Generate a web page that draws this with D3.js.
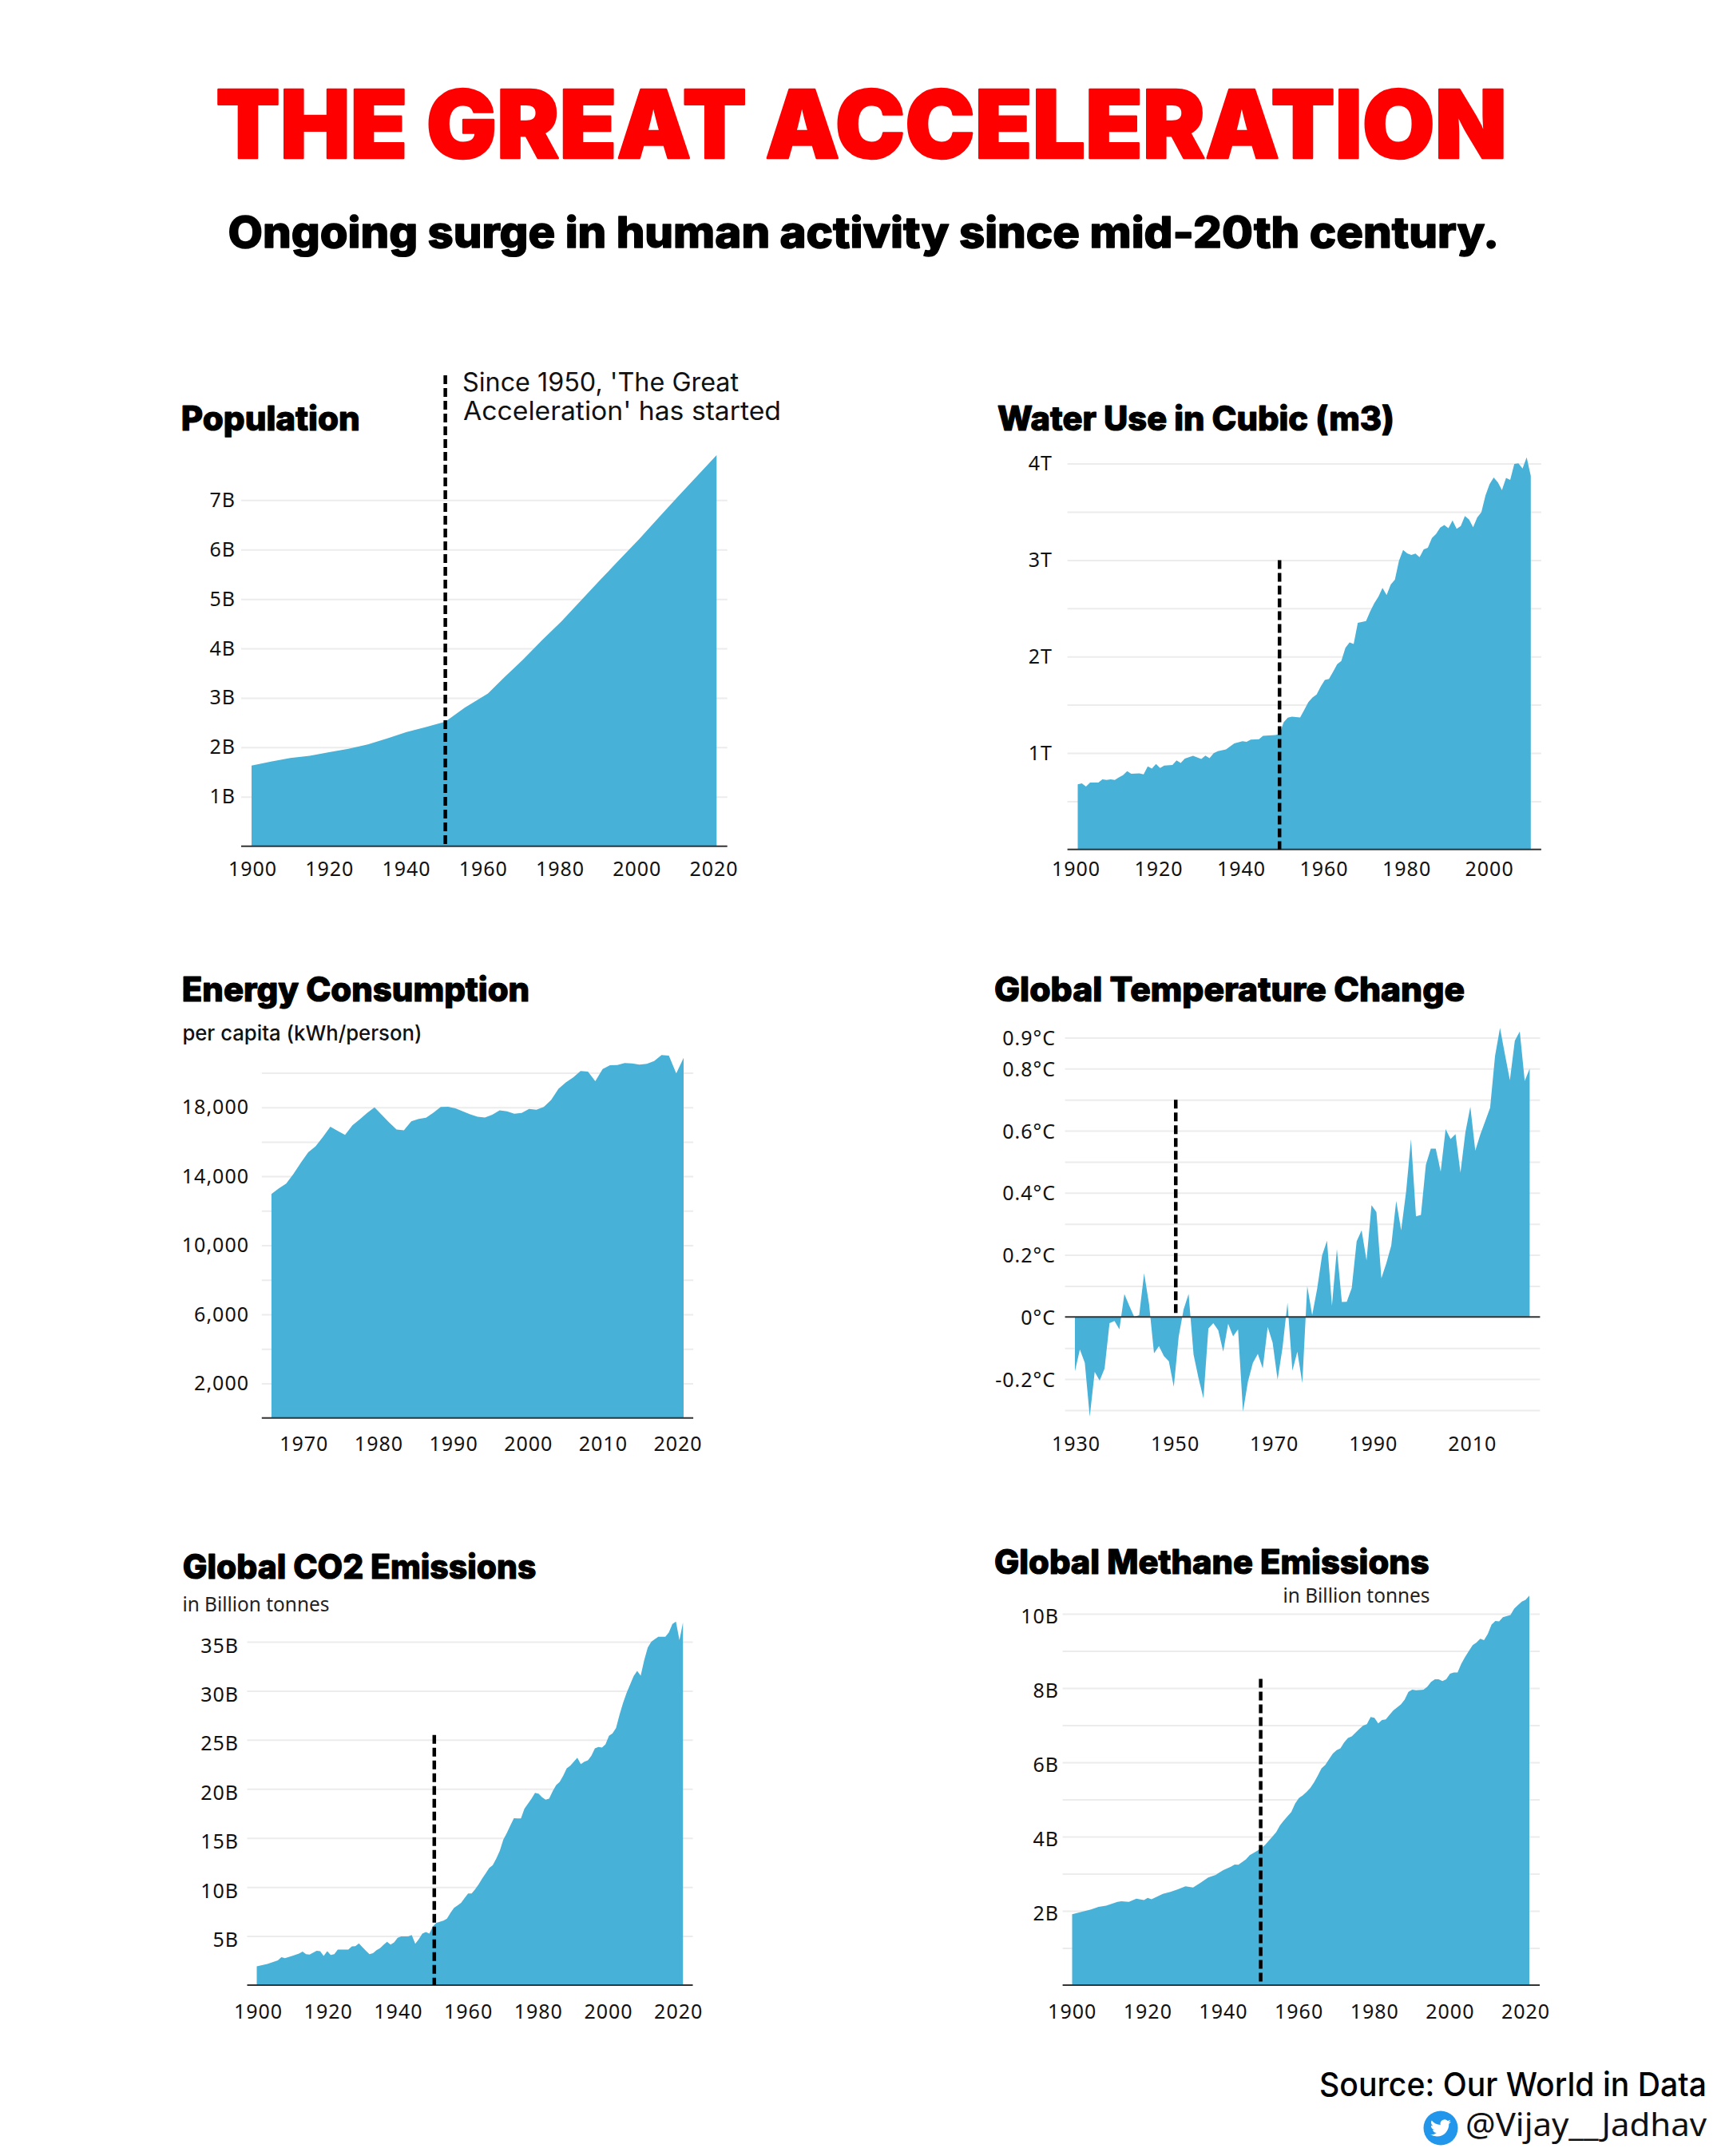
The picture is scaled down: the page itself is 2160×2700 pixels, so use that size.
<!DOCTYPE html>
<html>
  <head>
    <meta charset="utf-8">
    <title>The Great Acceleration</title>
    <script src="https://d3js.org/d3.v7.min.js"></script>
    <style>
      body { margin: 0; background: #fff; }
      svg { display: block; }
      .grid line { stroke: #ececec; stroke-width: 2; }
      .grid path, .ticks path { display: none; }
      .ticks line { display: none; }
      .ticks text { font-family: "Noto Sans", sans-serif; font-size: 25px; letter-spacing: 1px; fill: #111; }
    </style>
  </head>
  <body>
    <script>
      // values
      var populationYears = [1900,1905,1910,1915,1920,1925,1930,1935,1940,1945,1950,1955,1961,1965,1970,1975,1980,1985,1990,1995,2000,2005,2010,2015,2020];
      var populationValues = [1.63,1.71,1.785,1.83,1.9,1.97,2.06,2.18,2.31,2.41,2.52,2.8,3.09,3.4,3.77,4.17,4.55,4.97,5.39,5.8,6.21,6.64,7.07,7.49,7.91];

      var waterYears = [1900,1901,1902,1903,1905,1906,1907,1908,1909,1910,1911,1912,1913,1915,1916,1917,1918,1919,1920,1921,1923,1924,1925,1926,1928,1930,1931,1932,1933,1934,1936,1938,1940,1941,1942,1944,1945,1948,1949,1950,1951,1952,1954,1955,1956,1957,1958,1959,1960,1961,1962,1963,1964,1965,1966,1967,1968,1970,1971,1972,1973,1974,1975,1976,1977,1978,1979,1980,1981,1982,1983,1984,1985,1986,1987,1988,1989,1990,1991,1992,1993,1994,1995,1996,1997,1998,1999,2000,2001,2002,2003,2004,2005,2006,2007,2008,2009,2010];
      var waterValues = [0.676,0.686,0.653,0.693,0.693,0.727,0.72,0.727,0.72,0.747,0.771,0.811,0.784,0.788,0.778,0.862,0.839,0.886,0.845,0.869,0.876,0.923,0.896,0.943,0.97,0.937,0.974,0.947,0.997,1.018,1.038,1.099,1.123,1.116,1.139,1.143,1.177,1.187,1.197,1.319,1.366,1.376,1.369,1.447,1.528,1.576,1.606,1.69,1.758,1.768,1.843,1.921,1.954,2.09,2.147,2.13,2.35,2.367,2.468,2.553,2.62,2.712,2.637,2.746,2.796,2.992,3.104,3.07,3.053,3.067,3.03,3.111,3.128,3.229,3.27,3.337,3.364,3.33,3.412,3.324,3.354,3.456,3.422,3.341,3.442,3.496,3.669,3.787,3.855,3.807,3.726,3.851,3.831,3.997,4.003,3.949,4.064,3.872];

      var energyYears = d3.range(1965, 2022);
      var energyValues = [12977,13300,13580,14140,14790,15390,15740,16280,16870,16630,16400,16960,17300,17670,18000,17550,17120,16710,16670,17180,17320,17390,17680,18020,18030,17940,17760,17590,17450,17410,17570,17820,17760,17630,17670,17900,17860,18020,18420,19070,19440,19730,20100,20060,19510,20210,20430,20450,20560,20540,20470,20510,20680,21030,20990,19960,20860];

      var tempYears = d3.range(1930, 2023);
      var tempValues = [-0.175,-0.105,-0.148,-0.321,-0.177,-0.205,-0.166,-0.02,-0.013,-0.04,0.074,0.036,0,0.006,0.141,0.041,-0.117,-0.094,-0.126,-0.143,-0.225,-0.062,0.025,0.074,-0.121,-0.197,-0.262,-0.037,-0.02,-0.043,-0.112,-0.022,-0.062,-0.04,-0.305,-0.208,-0.148,-0.119,-0.166,-0.032,-0.083,-0.202,-0.099,0.046,-0.173,-0.112,-0.213,0.1,0.006,0.09,0.198,0.246,0.036,0.219,0.048,0.049,0.093,0.244,0.279,0.182,0.36,0.338,0.125,0.173,0.23,0.374,0.279,0.403,0.573,0.324,0.329,0.49,0.542,0.542,0.468,0.605,0.573,0.589,0.465,0.595,0.677,0.536,0.587,0.63,0.674,0.841,0.931,0.846,0.763,0.89,0.92,0.76,0.8];

      var co2Years = [1900,1903,1905,1906,1907,1908,1910,1912,1913,1914,1915,1917,1918,1919,1920,1921,1922,1923,1926,1927,1928,1929,1930,1931,1932,1933,1934,1935,1936,1937,1938,1939,1940,1941,1943,1944,1945,1946,1947,1948,1949,1950,1951,1953,1954,1955,1956,1957,1958,1959,1960,1961,1962,1963,1964,1965,1966,1967,1968,1969,1970,1971,1972,1973,1974,1975,1976,1977,1978,1979,1980,1981,1982,1983,1984,1985,1986,1987,1988,1989,1990,1991,1992,1993,1994,1995,1996,1997,1998,1999,2000,2001,2002,2003,2004,2005,2006,2007,2008,2009,2010,2011,2012,2013,2014,2016,2017,2018,2019,2020,2021];
      var co2Values = [1.92,2.16,2.4,2.53,2.84,2.74,2.98,3.22,3.42,3.15,3.12,3.49,3.46,2.98,3.46,3.08,3.15,3.63,3.63,3.94,3.97,4.25,3.87,3.49,3.15,3.25,3.56,3.77,4.11,4.42,4.14,4.35,4.83,4.97,4.97,5.1,4.21,4.69,5.24,5.41,5.24,5.99,6.34,6.58,6.78,7.36,7.88,8.12,8.39,8.87,9.35,9.35,9.76,10.27,10.86,11.4,11.95,12.23,12.91,13.7,14.83,15.51,16.27,17.02,16.99,16.99,17.98,18.49,19.01,19.59,19.52,19.14,18.9,19.01,19.76,20.38,20.72,21.34,22.09,22.36,22.77,23.18,22.53,22.77,22.91,23.39,24.14,24.28,24.21,24.55,25.41,25.65,26.2,27.57,28.77,29.79,30.65,31.51,32.02,31.54,33.12,34.42,35,35.27,35.51,35.51,35.96,36.82,37.05,35.17,36.95];

      var methaneYears = [1900,1905,1907,1909,1912,1913,1915,1917,1919,1920,1921,1924,1926,1928,1930,1932,1934,1936,1938,1940,1942,1943,1944,1946,1947,1949,1951,1953,1954,1955,1956,1957,1958,1959,1960,1961,1962,1963,1964,1965,1966,1967,1968,1969,1970,1971,1972,1973,1974,1976,1977,1978,1979,1980,1981,1982,1983,1984,1985,1986,1987,1988,1989,1990,1991,1993,1994,1995,1996,1997,1998,1999,2000,2001,2002,2003,2004,2005,2006,2007,2008,2009,2010,2011,2012,2013,2014,2016,2017,2018,2019,2020,2021];
      var methaneValues = [1.91,2.04,2.11,2.14,2.24,2.26,2.24,2.33,2.29,2.35,2.31,2.46,2.51,2.58,2.66,2.63,2.76,2.9,2.97,3.1,3.19,3.25,3.24,3.39,3.5,3.62,3.77,4,4.12,4.3,4.43,4.55,4.66,4.89,5.04,5.11,5.2,5.31,5.46,5.64,5.84,5.93,6.09,6.24,6.33,6.38,6.54,6.66,6.7,6.9,6.99,7.03,7.22,7.2,7.05,7.14,7.16,7.28,7.4,7.48,7.56,7.69,7.9,7.96,7.94,7.96,8.04,8.17,8.24,8.24,8.19,8.24,8.39,8.42,8.42,8.66,8.84,9,9.16,9.23,9.33,9.29,9.46,9.71,9.81,9.8,9.91,9.97,10.14,10.24,10.33,10.38,10.49];

      var populationLabels = [1,2,3,4,5,6,7];
      var waterLabels = [1,2,3,4];
      var energyLabels = [2000,6000,10000,14000,18000];
      var tempLabels = [-0.2,0,0.2,0.4,0.6,0.8,0.9];
      var co2Labels = [5,10,15,20,25,30,35];
      var methaneLabels = [2,4,6,8,10];

      var width = 2160, height = 2700;
      var areaColor = "#48b1d7";

      var panels = [
        { title: "Population", tx: 226.8, ty: 538.6, tw: 224,
          years: populationYears, values: populationValues,
          xDomain: [1900, 2020], xRange: [315, 897.3],
          yDomain: [0, 7], yRange: [1059.7, 626.3],
          gridX: [302, 910.7], grid: [1,2,3,4,5,6,7],
          labels: populationLabels, fmt: function(d) { return d + "B"; }, labelRight: 295, labelDy: 0,
          xTicks: [1900,1920,1940,1960,1980,2000,2020], xLabelRange: [316, 893.5], xAxisY: 1059.7, xBaseline: 1096.7,
          dash: { year: 1950, top: 9.526 } },
        { title: "Water Use in Cubic (m3)", tx: 1249, ty: 538.8, tw: 497,
          years: waterYears, values: waterValues,
          xDomain: [1900, 2010], xRange: [1349.5, 1916.8],
          yDomain: [0, 4], yRange: [1063.8, 580.6],
          gridX: [1336.6, 1929.9], grid: [0.5,1,1.5,2,2.5,3,3.5,4],
          labels: waterLabels, fmt: function(d) { return d + "T"; }, labelRight: 1318, labelDy: 0,
          xTicks: [1900,1920,1940,1960,1980,2000], xLabelRange: [1347, 1864.6], xAxisY: 1063.8, xBaseline: 1096.7,
          dash: { year: 1949, top: 3 } },
        { title: "Energy Consumption", tx: 227.8, ty: 1253.8, tw: 435.4,
          years: energyYears, values: energyValues,
          xDomain: [1965, 2021], xRange: [339.9, 856],
          yDomain: [0, 20000], yRange: [1775.8, 1343.4],
          gridX: [327.8, 868.1], grid: d3.range(2000, 20001, 2000),
          labels: energyLabels, fmt: d3.format(","), labelRight: 312, labelDy: 0,
          xTicks: [1970,1980,1990,2000,2010,2020], xLabelRange: [380.3, 848.5], xAxisY: 1775.8, xBaseline: 1816.7 },
        { title: "Global Temperature Change", tx: 1245, ty: 1253.8, tw: 589,
          years: tempYears, values: tempValues,
          xDomain: [1930, 2022], xRange: [1346, 1915.4],
          yDomain: [-0.3, 0.9], yRange: [1765.9, 1299.4],
          gridX: [1333.6, 1928.4], grid: [-0.3,-0.2,-0.1,0.1,0.2,0.3,0.4,0.5,0.6,0.7,0.8,0.9],
          labels: tempLabels, fmt: function(d) { return d + "°C"; }, labelRight: 1322, labelDy: 1,
          xTicks: [1930,1950,1970,1990,2010], xLabelRange: [1347, 1843.3], xAxisY: 1765.9, xBaseline: 1816.7,
          dash: { year: 1950.4, top: 0.7 } },
        { title: "Global CO2 Emissions", tx: 228.8, ty: 1976.8, tw: 442.5,
          years: co2Years, values: co2Values,
          xDomain: [1900, 2021], xRange: [321.5, 855.2],
          yDomain: [0, 35], yRange: [2486, 2056],
          gridX: [309.5, 867.5], grid: [5,10,15,20,25,30,35],
          labels: co2Labels, fmt: function(d) { return d + "B"; }, labelRight: 299, labelDy: 5,
          xTicks: [1900,1920,1940,1960,1980,2000,2020], xLabelRange: [323, 849.2], xAxisY: 2486, xBaseline: 2528,
          dash: { year: 1950.4, top: 25.5 } },
        { title: "Global Methane Emissions", tx: 1245, ty: 1971.3, tw: 544.5,
          years: methaneYears, values: methaneValues,
          xDomain: [1900, 2021], xRange: [1342.5, 1915],
          yDomain: [0, 10], yRange: [2486, 2021.1],
          gridX: [1330.6, 1928], grid: d3.range(1, 11),
          labels: methaneLabels, fmt: function(d) { return d + "B"; }, labelRight: 1326, labelDy: 3,
          xTicks: [1900,1920,1940,1960,1980,2000,2020], xLabelRange: [1342.2, 1910], xAxisY: 2486, xBaseline: 2528,
          dash: { year: 1949.9, top: 8.25 } }
      ];

      var svg = d3.select("body").append("svg")
        .attr("width", width)
        .attr("height", height)
        .attr("viewBox", "0 0 " + width + " " + height);

      svg.append("rect").attr("width", width).attr("height", height).attr("fill", "#fff");

      function fitText(x, y, str, w, size, weight, family, fill, heavy) {
        var t = svg.append("text")
          .attr("x", x).attr("y", y)
          .attr("textLength", w).attr("lengthAdjust", "spacingAndGlyphs")
          .attr("font-family", family)
          .attr("font-size", size).attr("font-weight", weight)
          .attr("fill", fill)
          .text(str);
        // Poppins Black is not installed, a thin outline makes up the weight
        if (heavy) t.attr("stroke", fill).attr("stroke-width", heavy).attr("stroke-linejoin", "round");
        return t;
      }

      fitText(270.3, 197.6, "THE GREAT ACCELERATION", 1616.5, 118, 900, "Inter, sans-serif", "#ff0000", 2.5);
      fitText(285.5, 310.2, "Ongoing surge in human activity since mid-20th century.", 1591.5, 54, 800, "Inter, sans-serif", "#000", 1.4);

      panels.forEach(function(p) {
        var x = d3.scaleLinear().domain(p.xDomain).range(p.xRange);
        var y = d3.scaleLinear().domain(p.yDomain).range(p.yRange);
        var xLabel = d3.scaleLinear()
          .domain([p.xTicks[0], p.xTicks[p.xTicks.length - 1]])
          .range(p.xLabelRange);
        var g = svg.append("g");

        // light grid
        g.append("g").attr("class", "grid")
          .attr("transform", "translate(" + p.gridX[0] + ",0)")
          .call(d3.axisLeft(y).tickValues(p.grid).tickSize(-(p.gridX[1] - p.gridX[0])).tickFormat(""));

        var rows = p.years.map(function(yr, i) { return { year: yr, value: p.values[i] }; });
        var area = d3.area()
          .x(function(d) { return x(d.year); })
          .y0(y(0))
          .y1(function(d) { return y(d.value); });

        g.append("path").datum(rows)
          .attr("fill", areaColor)
          .attr("d", area);

        // zero line
        g.append("line")
          .attr("x1", p.gridX[0]).attr("x2", p.gridX[1])
          .attr("y1", y(0)).attr("y2", y(0))
          .attr("stroke", "#333").attr("stroke-width", 2);

        if (p.dash) {
          g.append("line")
            .attr("x1", x(p.dash.year)).attr("x2", x(p.dash.year))
            .attr("y1", y(p.dash.top)).attr("y2", y(0))
            .attr("stroke", "#000").attr("stroke-width", 4.5)
            .attr("stroke-dasharray", "11 5");
        }

        g.append("g").attr("class", "ticks")
          .attr("transform", "translate(" + p.labelRight + "," + p.labelDy + ")")
          .call(d3.axisLeft(y).tickValues(p.labels).tickSize(0).tickPadding(0).tickFormat(p.fmt))
          .selectAll("text").attr("x", 0);

        g.append("g").attr("class", "ticks")
          .attr("transform", "translate(0," + p.xAxisY + ")")
          .call(d3.axisBottom(xLabel).tickValues(p.xTicks).tickSize(0).tickFormat(d3.format("d")))
          .selectAll("text")
          .attr("y", p.xBaseline - p.xAxisY).attr("dy", 0);

        fitText(p.tx, p.ty, p.title, p.tw, 42, 800, "Inter, sans-serif", "#000", 1.2);
      });

      // small notes
      fitText(579, 489.8, "Since 1950, 'The Great", 346, 32, 400, "Inter, sans-serif", "#111");
      fitText(580, 525.7, "Acceleration' has started", 398, 32, 400, "Inter, sans-serif", "#111");
      fitText(228.4, 1302.6, "per capita (kWh/person)", 300, 26, 500, "Inter, sans-serif", "#111");
      fitText(228.4, 2017.7, "in Billion tonnes", 184, 26, 400, "Noto Sans, sans-serif", "#222");
      fitText(1606.5, 2006.7, "in Billion tonnes", 184, 26, 400, "Noto Sans, sans-serif", "#222");

      // source block
      fitText(1652, 2625, "Source: Our World in Data", 485, 41, 500, "Inter, sans-serif", "#000");
      fitText(1835, 2675, "@Vijay__Jadhav", 302, 40, 400, "Noto Sans, sans-serif", "#111");
      svg.append("circle").attr("cx", 1804).attr("cy", 2665).attr("r", 21.5).attr("fill", "#2196ea");
      svg.append("path")
        .attr("transform", "translate(1791,2652) scale(1.08)")
        .attr("fill", "#fff")
        .attr("d", "M23.953 4.57a10 10 0 01-2.825.775 4.958 4.958 0 002.163-2.723c-.951.555-2.005.959-3.127 1.184a4.92 4.92 0 00-8.384 4.482C7.69 8.095 4.067 6.13 1.64 3.162a4.822 4.822 0 00-.666 2.475c0 1.71.87 3.213 2.188 4.096a4.904 4.904 0 01-2.228-.616v.06a4.923 4.923 0 003.946 4.827 4.996 4.996 0 01-2.212.085 4.936 4.936 0 004.604 3.417 9.867 9.867 0 01-6.102 2.105c-.39 0-.779-.023-1.17-.067a13.995 13.995 0 007.557 2.209c9.053 0 13.998-7.496 13.998-13.985 0-.21 0-.42-.015-.63A9.935 9.935 0 0024 4.59z");
    </script>
  </body>
</html>
